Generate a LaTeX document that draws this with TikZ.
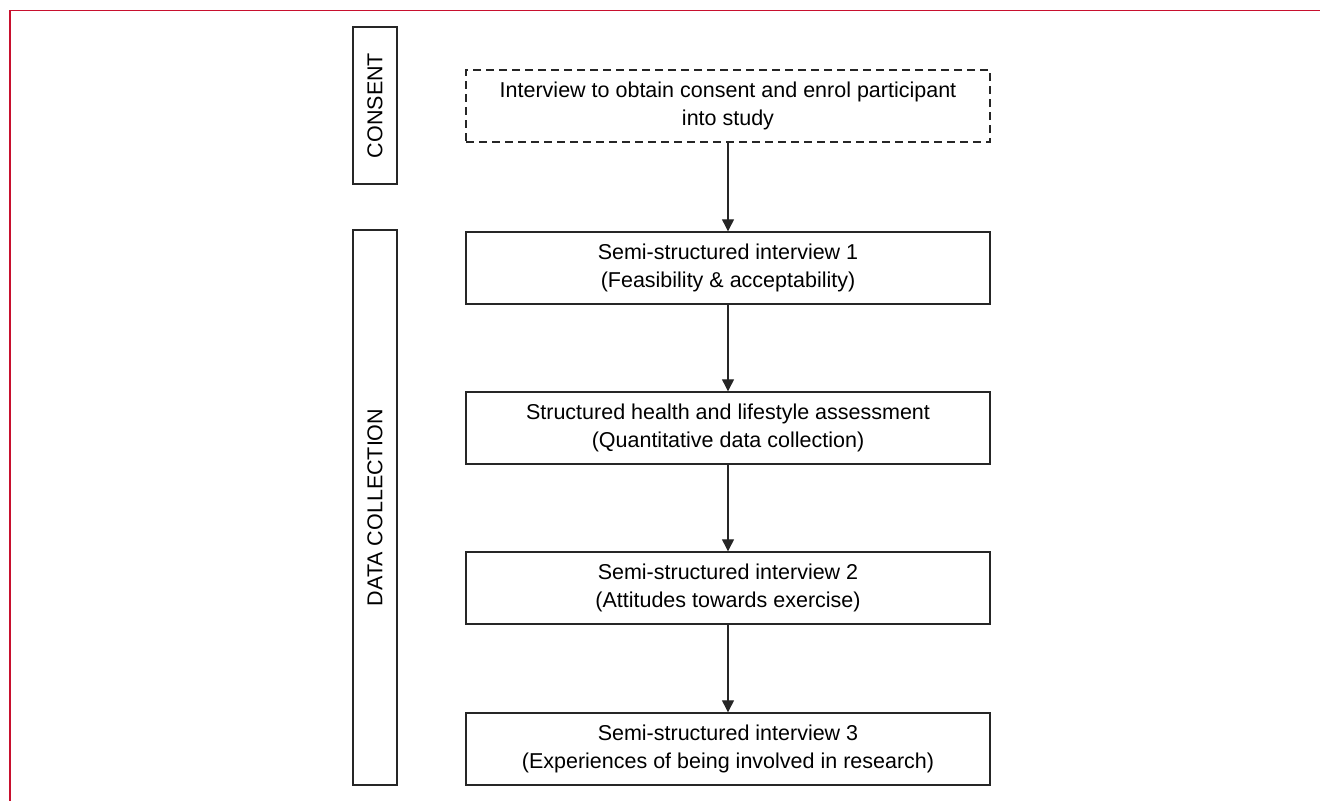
\documentclass[tikz,border=0pt]{standalone}
\usepackage{fontspec}
\setmainfont{Liberation Sans}
\usetikzlibrary{arrows.meta}
\definecolor{framered}{RGB}{200,16,46}

\begin{document}
\begin{tikzpicture}
  [x=1pt,y=-1pt,
   every node/.style={draw=black!85,line width=1.4pt,align=center,inner sep=0pt,
     font=\fontsize{21.5}{28}\selectfont},
   stagebox/.style={rotate=90,minimum height=44pt},
   stepbox/.style={minimum width=524pt,minimum height=72pt},
   link/.style={draw=black!85,line width=1.2pt,-{Triangle[length=12pt,width=12pt]}}]
  \useasboundingbox (0,0) rectangle (1320,801);
  \draw[framered,line width=1.5pt] (1320,10.5) -- (10,10.5) -- (10,801);

  \node[stagebox,minimum width=157pt] (consent) at (375,105.5) {CONSENT};
  \node[stagebox,minimum width=555pt] (datacoll) at (375,507.5) {DATA COLLECTION};

  \node[stepbox,dash pattern=on 8pt off 5pt] (enrol) at (728,106)
    {Interview to obtain consent and enrol participant\\into study};
  \node[stepbox] (int1) at (728,268)
    {Semi-structured interview 1\\(Feasibility \& acceptability)};
  \node[stepbox] (assess) at (728,428)
    {Structured health and lifestyle assessment\\(Quantitative data collection)};
  \node[stepbox] (int2) at (728,588)
    {Semi-structured interview 2\\(Attitudes towards exercise)};
  \node[stepbox] (int3) at (728,749)
    {Semi-structured interview 3\\(Experiences of being involved in research)};

  \foreach \from/\to in {enrol/int1,int1/assess,assess/int2,int2/int3}
    \draw[link] (\from) -- (\to);
\end{tikzpicture}
\end{document}
